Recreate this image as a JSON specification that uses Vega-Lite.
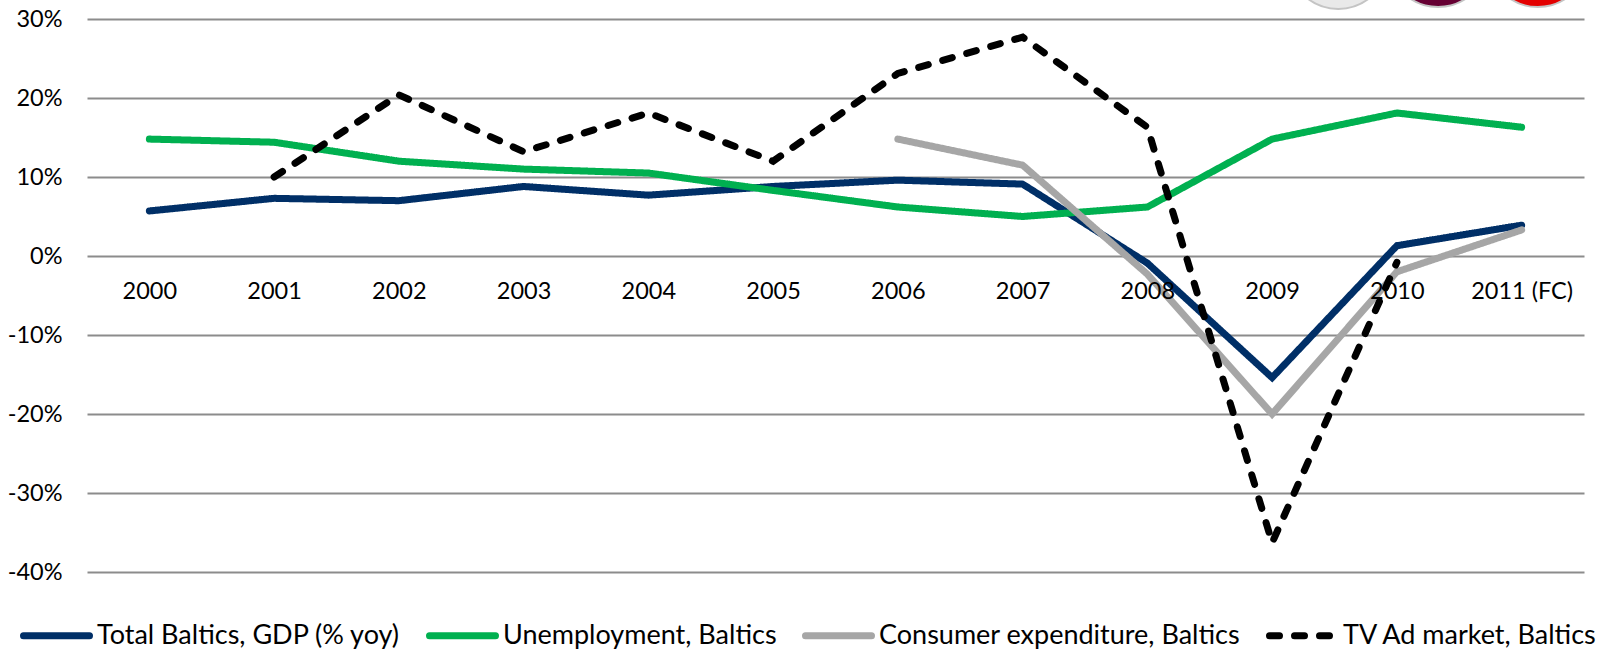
{
  "$schema": "https://vega.github.io/schema/vega-lite/v6.json",
  "width": 1497,
  "height": 553,
  "padding": {"left": 87, "top": 19, "right": 24, "bottom": 78},
  "autosize": {"type": "none"},
  "background": "white",
  "config": {
    "view": {"stroke": null},
    "font": "Lato",
    "axis": {"labelFont": "Lato", "labelColor": "#000000"},
    "legend": {"labelFont": "Lato"}
  },
  "datasets": {
    "series": [
      {"year": 2000, "series": "Total Baltics, GDP (% yoy)", "pct": 5.7},
      {"year": 2001, "series": "Total Baltics, GDP (% yoy)", "pct": 7.3},
      {"year": 2002, "series": "Total Baltics, GDP (% yoy)", "pct": 7.0},
      {"year": 2003, "series": "Total Baltics, GDP (% yoy)", "pct": 8.8},
      {"year": 2004, "series": "Total Baltics, GDP (% yoy)", "pct": 7.7},
      {"year": 2005, "series": "Total Baltics, GDP (% yoy)", "pct": 8.8},
      {"year": 2006, "series": "Total Baltics, GDP (% yoy)", "pct": 9.6},
      {"year": 2007, "series": "Total Baltics, GDP (% yoy)", "pct": 9.1},
      {"year": 2008, "series": "Total Baltics, GDP (% yoy)", "pct": -0.9},
      {"year": 2009, "series": "Total Baltics, GDP (% yoy)", "pct": -15.4},
      {"year": 2010, "series": "Total Baltics, GDP (% yoy)", "pct": 1.3},
      {"year": 2011, "series": "Total Baltics, GDP (% yoy)", "pct": 3.9},
      {"year": 2000, "series": "Unemployment, Baltics", "pct": 14.8},
      {"year": 2001, "series": "Unemployment, Baltics", "pct": 14.4},
      {"year": 2002, "series": "Unemployment, Baltics", "pct": 12.0},
      {"year": 2003, "series": "Unemployment, Baltics", "pct": 11.0},
      {"year": 2004, "series": "Unemployment, Baltics", "pct": 10.5},
      {"year": 2005, "series": "Unemployment, Baltics", "pct": 8.3},
      {"year": 2006, "series": "Unemployment, Baltics", "pct": 6.2},
      {"year": 2007, "series": "Unemployment, Baltics", "pct": 5.0},
      {"year": 2008, "series": "Unemployment, Baltics", "pct": 6.2},
      {"year": 2009, "series": "Unemployment, Baltics", "pct": 14.8},
      {"year": 2010, "series": "Unemployment, Baltics", "pct": 18.1},
      {"year": 2011, "series": "Unemployment, Baltics", "pct": 16.3},
      {"year": 2006, "series": "Consumer expenditure, Baltics", "pct": 14.8},
      {"year": 2007, "series": "Consumer expenditure, Baltics", "pct": 11.5},
      {"year": 2008, "series": "Consumer expenditure, Baltics", "pct": -2.3},
      {"year": 2009, "series": "Consumer expenditure, Baltics", "pct": -20.0},
      {"year": 2010, "series": "Consumer expenditure, Baltics", "pct": -2.0},
      {"year": 2011, "series": "Consumer expenditure, Baltics", "pct": 3.3},
      {"year": 2001, "series": "TV Ad market, Baltics", "pct": 10.0},
      {"year": 2002, "series": "TV Ad market, Baltics", "pct": 20.4},
      {"year": 2003, "series": "TV Ad market, Baltics", "pct": 13.2},
      {"year": 2004, "series": "TV Ad market, Baltics", "pct": 18.1},
      {"year": 2005, "series": "TV Ad market, Baltics", "pct": 12.0},
      {"year": 2006, "series": "TV Ad market, Baltics", "pct": 23.1},
      {"year": 2007, "series": "TV Ad market, Baltics", "pct": 27.7},
      {"year": 2008, "series": "TV Ad market, Baltics", "pct": 16.3},
      {"year": 2009, "series": "TV Ad market, Baltics", "pct": -36.3},
      {"year": 2010, "series": "TV Ad market, Baltics", "pct": -0.8}
    ],
    "badges": [
      {"slot": 2009.53, "level": 37.6, "badge": "silver"},
      {"slot": 2010.33, "level": 37.85, "badge": "maroon"},
      {"slot": 2011.13, "level": 37.85, "badge": "red"}
    ]
  },
  "data": {"name": "series"},
  "layer": [
    {
      "data": {"name": "badges"},
      "mark": {"type": "point", "filled": true, "shape": "circle", "size": 10000, "clip": false, "opacity": 1},
      "encoding": {
        "x": {"field": "slot", "type": "quantitative", "scale": {"domain": [1999.5, 2011.5], "nice": false, "zero": false}},
        "y": {"field": "level", "type": "quantitative", "scale": {"domain": [-40, 30], "nice": false, "zero": false}},
        "fill": {
          "field": "badge",
          "type": "nominal",
          "legend": null,
          "scale": {"domain": ["silver", "maroon", "red"], "range": ["#e9e9e9", "#660033", "#e30000"]}
        },
        "stroke": {"value": "#c4c4c4"},
        "strokeWidth": {"value": 2}
      }
    },
    {
      "mark": {"type": "line", "strokeWidth": 7, "strokeCap": "round", "strokeJoin": "miter", "clip": false},
      "encoding": {
        "x": {
          "field": "year",
          "type": "quantitative",
          "scale": {"domain": [1999.5, 2011.5], "nice": false, "zero": false},
          "axis": {
            "title": null,
            "orient": "bottom",
            "offset": -316,
            "values": [2000, 2001, 2002, 2003, 2004, 2005, 2006, 2007, 2008, 2009, 2010, 2011],
            "labelExpr": "datum.value === 2011 ? '2011 (FC)' : format(datum.value, 'd')",
            "domain": false,
            "ticks": false,
            "grid": false,
            "labelFontSize": 23.5,
            "labelPadding": 23,
            "labelFlush": false,
            "labelOverlap": false,
            "zindex": 1
          }
        },
        "y": {
          "field": "pct",
          "type": "quantitative",
          "scale": {"domain": [-40, 30], "nice": false, "zero": false},
          "axis": {
            "title": null,
            "values": [-40, -30, -20, -10, 0, 10, 20, 30],
            "labelExpr": "replace(format(datum.value, 'd'), '−', '-') + '%'",
            "domain": false,
            "ticks": false,
            "grid": true,
            "gridColor": "#8c8c8c",
            "gridWidth": 2,
            "labelFontSize": 23.5,
            "labelPadding": 25,
            "zindex": 0
          }
        },
        "color": {
          "field": "series",
          "type": "nominal",
          "scale": {
            "domain": ["Total Baltics, GDP (% yoy)", "Unemployment, Baltics", "Consumer expenditure, Baltics", "TV Ad market, Baltics"],
            "range": ["#002f67", "#00b050", "#a6a6a6", "#000000"]
          },
          "legend": {
            "title": null,
            "orient": "none",
            "legendX": -67,
            "legendY": 580,
            "direction": "horizontal",
            "columns": 4,
            "gridAlign": "each",
            "symbolType": "stroke",
            "symbolSize": 4356,
            "symbolStrokeWidth": 7,
            "labelFontSize": 27,
            "labelLimit": 500,
            "labelOffset": 4,
            "columnPadding": 14,
            "padding": 0,
            "encoding": {"symbols": {"strokeCap": {"value": "round"}}}
          }
        },
        "strokeDash": {
          "field": "series",
          "type": "nominal",
          "scale": {
            "domain": ["Total Baltics, GDP (% yoy)", "Unemployment, Baltics", "Consumer expenditure, Baltics", "TV Ad market, Baltics"],
            "range": [[1, 0], [1, 0], [1, 0], [10, 15]]
          },
          "legend": {
            "title": null,
            "orient": "none",
            "legendX": -67,
            "legendY": 580,
            "direction": "horizontal",
            "columns": 4,
            "gridAlign": "each",
            "symbolType": "stroke",
            "symbolSize": 4356,
            "symbolStrokeWidth": 7,
            "labelFontSize": 27,
            "labelLimit": 500,
            "labelOffset": 4,
            "columnPadding": 14,
            "padding": 0,
            "encoding": {"symbols": {"strokeCap": {"value": "round"}}}
          }
        },
        "order": {"field": "year"}
      }
    }
  ]
}
